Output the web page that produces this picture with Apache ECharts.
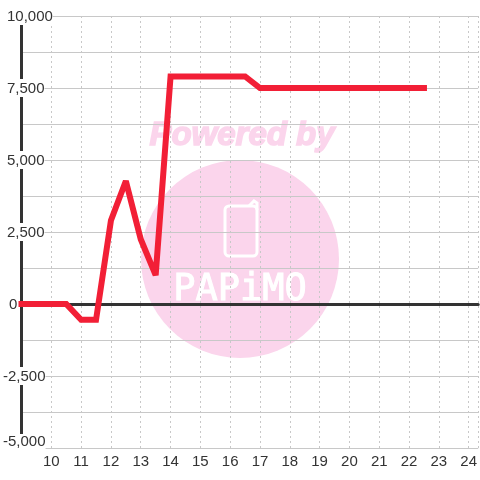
<!DOCTYPE html>
<html>
<head>
<meta charset="utf-8">
<style>html,body{margin:0;padding:0;background:#fff}#chart{width:480px;height:480px}</style>
<script src="https://cdn.jsdelivr.net/npm/echarts@6/dist/echarts.min.js"></script>
</head>
<body>
<div id="chart"></div>
<script>
const hours = [9, 9.5, 10, 10.5, 11, 11.5, 12, 12.5, 13, 13.5, 14, 14.5, 15, 15.5, 16, 16.5, 17, 17.5, 18, 18.5, 19, 19.5, 20, 20.5, 21, 21.5, 22, 22.5];
const values = [0, 0, 0, 0, -550, -550, 2900, 4270, 2250, 1000, 7900, 7900, 7900, 7900, 7900, 7900, 7500, 7500, 7500, 7500, 7500, 7500, 7500, 7500, 7500, 7500, 7500, 7500];
const labelledTicks = [-5000, -2500, 0, 2500, 5000, 7500, 10000];

const font = '"Liberation Sans", Arial, sans-serif';
const wmPink = '#fbd5ec';
const ink = '#333333';

// tick label with white box, it sits on top of the y axis line
function yLabel(v) {
  if (labelledTicks.indexOf(v) < 0) return '';
  let txt = v.toLocaleString('en-US');
  if (v === -5000) return '{low|' + txt + '}';
  if (v < 0) return '{neg|' + txt + '}';
  if (v === 0) return '{zero|' + txt + '}';
  return '{pos|' + txt + '}';
}
const boxStyle = {fontSize: 15, fontFamily: font, color: ink, backgroundColor: '#fff', height: 16, lineHeight: 16};

let chart = echarts.init(document.getElementById('chart'), null, {renderer: 'canvas'});
chart.setOption({
  animation: false,
  backgroundColor: '#ffffff',
  grid: {left: 20.5, right: 0, top: 16, bottom: 32, containLabel: false},
  graphic: [
    {type: 'circle', z: -10, silent: true, shape: {cx: 240, cy: 259, r: 99}, style: {fill: wmPink}},
    {type: 'text', z: -10, silent: true, x: 242, y: 136, style: {
      text: 'Powered by', fill: wmPink, stroke: wmPink, lineWidth: 1.5,
      font: 'italic bold 33px "Liberation Sans", Arial, sans-serif',
      textAlign: 'center', textVerticalAlign: 'middle'
    }},
    {type: 'rect', z: -10, silent: true, shape: {x: 225, y: 206, width: 32, height: 50, r: 4},
      style: {fill: 'none', stroke: '#ffffff', lineWidth: 3}},
    {type: 'polyline', z: -10, silent: true, shape: {points: [[249, 206], [254, 201], [257, 203], [257, 210]]},
      style: {fill: 'none', stroke: '#ffffff', lineWidth: 3}},
    {type: 'text', z: -10, silent: true, x: 240, y: 290, style: {
      text: 'PAPiMO', fill: '#ffffff', stroke: '#ffffff', lineWidth: 1,
      font: '37px "DejaVu Sans Mono", monospace',
      textAlign: 'center', textVerticalAlign: 'middle'
    }}
  ],
  xAxis: [
    {
      type: 'value', min: 9, max: 24.32, interval: 1, position: 'bottom',
      axisLine: {show: false, onZero: false}, axisTick: {show: false},
      axisLabel: {
        color: ink, fontSize: 15, fontFamily: font, margin: 6,
        showMaxLabel: false, showMinLabel: false,
        formatter: v => (v >= 10 && v <= 24) ? String(v) : ''
      },
      splitLine: {show: true, lineStyle: {color: '#c8c8c8', width: 1, type: [2, 3]}}
    },
    {
      // dark zero line
      type: 'value', min: 9, max: 24.32, interval: 1, position: 'bottom',
      axisLine: {show: true, onZero: true, lineStyle: {color: ink, width: 3}},
      axisTick: {show: false}, axisLabel: {show: false}, splitLine: {show: false}
    }
  ],
  yAxis: {
    type: 'value', min: -5000, max: 10000, interval: 1250,
    axisLine: {show: true, onZero: false, lineStyle: {color: ink, width: 3}},
    axisTick: {show: false},
    axisLabel: {
      align: 'left', margin: 18.5, showMinLabel: true, showMaxLabel: true,
      formatter: yLabel,
      rich: {
        pos: Object.assign({padding: [2, 0, 0, 4]}, boxStyle),
        neg: Object.assign({padding: [2, 0, 0, 0]}, boxStyle),
        low: Object.assign({padding: [0, 0, 12, 0]}, boxStyle),
        zero: Object.assign({padding: [2, 0, 0, 6]}, boxStyle)
      }
    },
    splitLine: {show: true, lineStyle: {color: '#c8c8c8', width: 1}}
  },
  series: [{
    type: 'line',
    data: hours.map((h, i) => [h, values[i]]),
    showSymbol: false, symbol: 'none', smooth: false,
    lineStyle: {color: '#f21f36', width: 6, cap: 'square', join: 'miter', miterLimit: 2},
    z: 5
  }]
});
</script>
</body>
</html>
